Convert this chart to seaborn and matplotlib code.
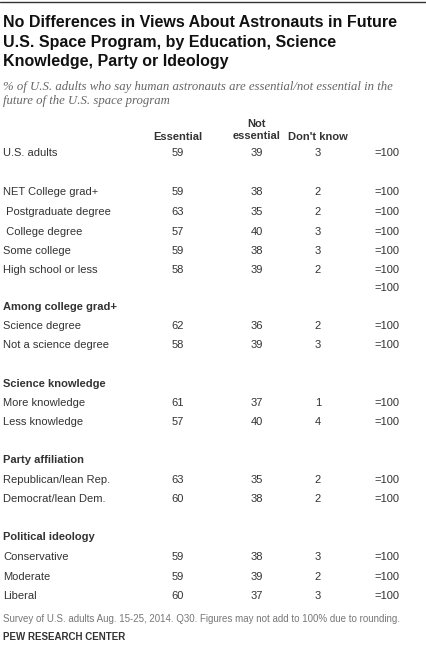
import matplotlib.pyplot as plt
import seaborn as sns

sns.set_theme(style='white')
plt.rcParams['font.family'] = ['Liberation Sans', 'DejaVu Sans']

# rows: (label, essential, not essential, don't know, kind)
labels = ['U.S. adults', None,
          'NET College grad+', ' Postgraduate degree', ' College degree', 'Some college', 'High school or less', None,
          'Among college grad+', 'Science degree', 'Not a science degree', None,
          'Science knowledge', 'More knowledge', 'Less knowledge', None,
          'Party affiliation', 'Republican/lean Rep.', 'Democrat/lean Dem.', None,
          'Political ideology', 'Conservative', 'Moderate', 'Liberal']
essential = [59, None, 59, 63, 57, 59, 58, None, None, 62, 58, None, None, 61, 57, None, None, 63, 60, None, None, 59, 59, 60]
not_essential = [39, None, 38, 35, 40, 38, 39, None, None, 36, 39, None, None, 37, 40, None, None, 35, 38, None, None, 38, 39, 37]
dont_know = [3, None, 2, 2, 3, 3, 2, None, None, 2, 3, None, None, 1, 4, None, None, 2, 2, None, None, 3, 2, 3]
headers = ['Among college grad+', 'Science knowledge', 'Party affiliation', 'Political ideology']
row_y = [153, 172, 192, 212, 232, 251, 270, 288, 307, 326, 345, 364, 384, 403, 422, 441,
         460, 480, 499, 518, 537, 557, 577, 596]

W, H = 426, 665
fig = plt.figure(figsize=(W / 100, H / 100), dpi=100)
ax = fig.add_axes([0, 0, 1, 1])
ax.set_xlim(0, W)
ax.set_ylim(H, 0)
ax.axis('off')

ax.plot([0, W], [2, 2], color='#333333', lw=1)
title = ('No Differences in Views About Astronauts in Future\n'
         'U.S. Space Program, by Education, Science\n'
         'Knowledge, Party or Ideology')
ax.text(3, 15, title, fontsize=11.5, fontweight='bold', va='top', linespacing=1.38, color='#111111')
ax.text(3, 81, '% of U.S. adults who say human astronauts are essential/not essential in the\n'
        'future of the U.S. space program', fontsize=9.2, style='italic', va='top',
        color='#666666', family=['Liberation Serif', 'DejaVu Serif'], linespacing=1.2)

txt = '#333333'
fs = 8
ax.text(178, 137, 'Essential', fontsize=fs, fontweight='bold', ha='center', va='center', color=txt)
ax.text(257, 130, 'Not\nessential', fontsize=fs, fontweight='bold', ha='center', va='center', color=txt, linespacing=1.3)
ax.text(318, 137, "Don't know", fontsize=fs, fontweight='bold', ha='center', va='center', color=txt)

for lab, e, n, d, y in zip(labels, essential, not_essential, dont_know, row_y):
    if lab is None:
        continue
    bold = lab in headers
    ax.text(3, y, lab, fontsize=fs, fontweight='bold' if bold else 'normal', va='center', color=txt)
    if e is not None:
        ax.text(178, y, str(e), fontsize=fs, ha='center', va='center', color=txt)
        ax.text(257, y, str(n), fontsize=fs, ha='center', va='center', color=txt)
        ax.text(318, y, str(d), fontsize=fs, ha='center', va='center', color=txt)
        ax.text(374, y, '=100', fontsize=fs, va='center', color=txt)
ax.text(374, 288, '=100', fontsize=fs, va='center', color=txt)

ax.text(3, 619, 'Survey of U.S. adults Aug. 15-25, 2014. Q30. Figures may not add to 100% due to rounding.',
        fontsize=7, va='center', color='#777777')
ax.text(3, 637, 'PEW RESEARCH CENTER', fontsize=7, fontweight='bold', va='center', color='#333333')

fig.savefig('out.png', dpi=100)
